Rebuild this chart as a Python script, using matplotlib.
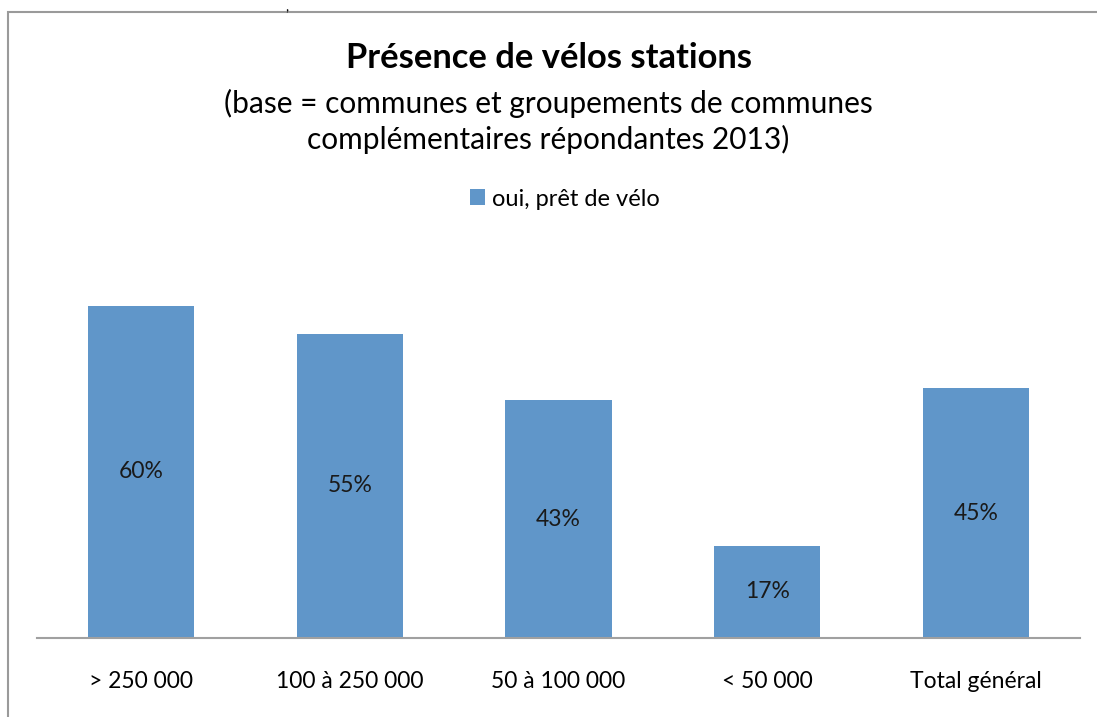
import matplotlib.pyplot as plt
from matplotlib.patches import Rectangle

# data
categories = ['> 250 000', '100 à 250 000', '50 à 100 000', '< 50 000', 'Total général']
values = [0.601, 0.55, 0.43, 0.167, 0.452]
series_name = 'oui, prêt de vélo'

plt.rcParams['font.family'] = ['Lato', 'DejaVu Sans']

fig = plt.figure(figsize=(10.97, 7.17), dpi=100)
ax = fig.add_axes([37/1097, 1 - 638/717, 1043/1097, 400/717])

bar_color = '#6096C9'
x = range(len(categories))
bars = ax.bar(x, values, width=0.51, color=bar_color)

for b, v in zip(bars, values):
    ax.text(b.get_x() + b.get_width()/2, v/2, '%d%%' % round(v*100),
            ha='center', va='center', fontsize=16.5, color='#1a1a1a')

ax.set_xlim(-0.5, len(categories) - 0.5)
ax.set_ylim(0, 400/5.53/100)
ax.set_xticks(list(x))
ax.set_xticklabels(categories, fontsize=16.5)
ax.tick_params(axis='x', length=0, pad=24)
ax.set_yticks([])
for s in ['top', 'right', 'left']:
    ax.spines[s].set_visible(False)
ax.spines['bottom'].set_color('#a0a0a0')
ax.spines['bottom'].set_linewidth(1.5)

# titles
fig.text(0.5, 1 - 58/717, 'Présence de vélos stations', ha='center', va='center',
         fontsize=24.8, fontweight='bold')
fig.text(0.5, 1 - 103/717, '(base = communes et groupements de communes', ha='center',
         va='center', fontsize=21.5)
fig.text(0.5, 1 - 139/717, 'complémentaires répondantes 2013)', ha='center',
         va='center', fontsize=21.5)

# legend
ax.legend([bars[0]], [series_name], loc='center', bbox_to_anchor=(565/1097, 1 - 199/717),
          bbox_transform=fig.transFigure, frameon=False, fontsize=17,
          handlelength=0.65, handleheight=0.65, handletextpad=0.3)

# chart frame
fig.patches.append(Rectangle((8/1097, -0.2), 1.2, 1.2 - 12/717, transform=fig.transFigure,
                             fill=False, edgecolor='#9a9a9a', linewidth=1.5))
fig.text(287/1097, 1 - 1/717, ',', ha='center', va='top', fontsize=10)

fig.savefig('out.png', dpi=100)
